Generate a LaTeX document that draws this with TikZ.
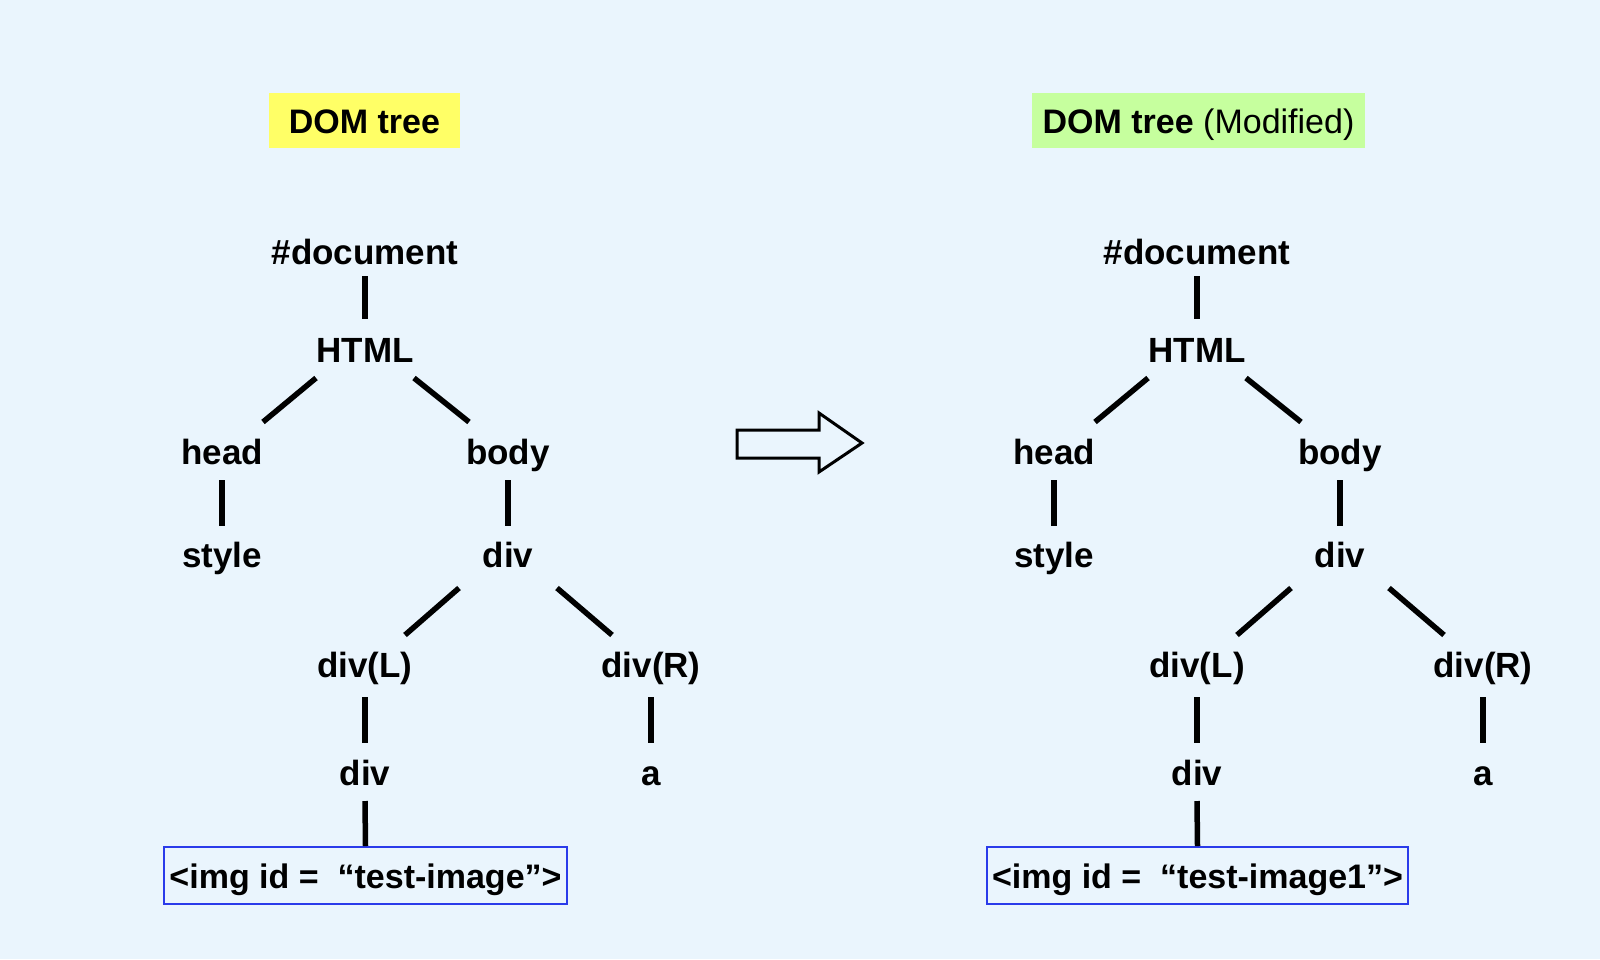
\documentclass[tikz,border=0pt]{standalone}
\usepackage{fontspec}
\setmainfont{Liberation Sans}
\usetikzlibrary{calc}
\definecolor{bgc}{HTML}{EAF5FD}
\definecolor{ttlyellow}{HTML}{FFFF66}
\definecolor{ttlgreen}{HTML}{C6FF9E}
\definecolor{imgblue}{HTML}{2A3BEA}
\newcommand\domtree[1]{%
  \node[lbl] (doc) at (365,264) {\#document};
  \node[lbl] (html) at (365,362) {HTML};
  \node[lbl] (head) at (222,464) {head};
  \node[lbl] (body) at (508,464) {body};
  \node[lbl] (style) at (222,567) {style};
  \node[lbl] (div) at (508,567) {div};
  \node[lbl] (divL) at (365,677) {div(L)};
  \node[lbl] (divR) at (651,677) {div(R)};
  \node[lbl] (div2) at (365,785) {div};
  \node[lbl] (a) at (651,785) {a};
  \node[imgbox] (img) at (365.5,875.5) {#1};
  \draw[edge] ([shift={(0,12)}]doc.base) -- ([shift={(0,-43)}]html.base);
  \draw[edge] ([shift={(-49,16)}]html.base) -- ([shift={(41,-42)}]head.base);
  \draw[edge] ([shift={(49,16)}]html.base) -- ([shift={(-39,-42)}]body.base);
  \draw[edge] ([shift={(0,16)}]head.base) -- ([shift={(0,-41)}]style.base);
  \draw[edge] ([shift={(0,16)}]body.base) -- ([shift={(0,-41)}]div.base);
  \draw[edge] ([shift={(-49,21)}]div.base) -- ([shift={(40,-42)}]divL.base);
  \draw[edge] ([shift={(49,21)}]div.base) -- ([shift={(-39,-42)}]divR.base);
  \draw[edge] ([shift={(0,20)}]divL.base) -- ([shift={(0,-42)}]div2.base);
  \draw[edge] ([shift={(0,20)}]divR.base) -- ([shift={(0,-42)}]a.base);
  \draw[edge] ([shift={(0,16)}]div2.base) -- (img.north);
}
\begin{document}
\begin{tikzpicture}[x=1pt,y=-1pt,
  lbl/.style={font=\fontsize{35}{40}\selectfont\bfseries, inner sep=0pt, anchor=base},
  edge/.style={line width=5.5pt, black},
  imgbox/.style={draw=imgblue, line width=2pt, font=\fontsize{34}{40}\selectfont\bfseries,
     inner xsep=5pt, inner ysep=4pt, text height=37pt, text depth=12pt},
  ttl/.style={inner ysep=10.5pt, text height=30pt, text depth=4pt, inner xsep=10pt,
     font=\fontsize{34}{40}\selectfont}]
\fill[bgc] (0,0) rectangle (1600,959);
\useasboundingbox (0,0) rectangle (1600,959);
% titles
\node[ttl, fill=ttlyellow, minimum width=191pt] (t1) at (364.5,120.5) {\textbf{DOM tree}};
\node[ttl, fill=ttlgreen, minimum width=333pt] (t2) at (1198.5,120.5) {\textbf{DOM tree} (Modified)};
% trees
\begin{scope}[name prefix=L-]
  \domtree{<img id =\ \ “test-image”>}
\end{scope}
\begin{scope}[name prefix=R-, xshift=832pt]
  \domtree{<img id =\ \ “test-image1”>}
\end{scope}
% arrow
\draw[line width=3pt, line join=miter]
  (737,430) -- (819,430) -- (819,413) -- (862,443) -- (819,472) -- (819,458) -- (737,458) -- cycle;
\end{tikzpicture}
\end{document}
